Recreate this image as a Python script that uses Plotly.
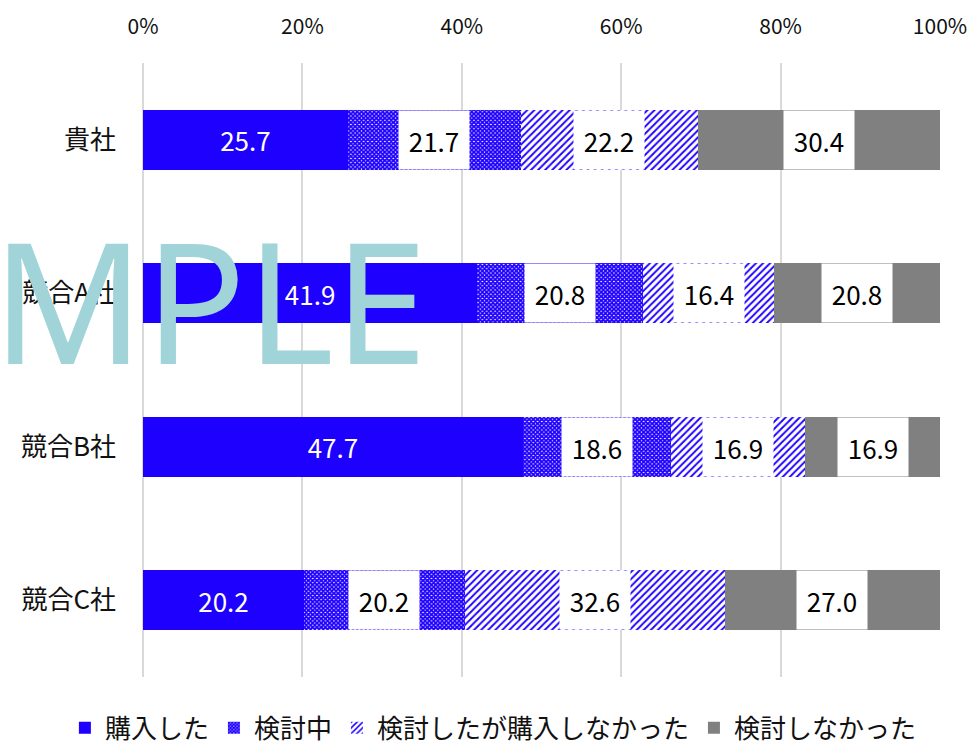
import plotly.graph_objects as go

categories = ["貴社", "競合A社", "競合B社", "競合C社"]
series_names = ["購入した", "検討中", "検討したが購入しなかった", "検討しなかった"]
purchased = [25.7, 41.9, 47.7, 20.2]
considering = [21.7, 20.8, 18.6, 20.2]
considered_not_bought = [22.2, 16.4, 16.9, 32.6]
not_considered = [30.4, 20.8, 16.9, 27.0]
tick_vals = [0, 20, 40, 60, 80, 100]
tick_labels = ["0%", "20%", "40%", "60%", "80%", "100%"]
watermark = "MPLE"

BLUE = "#1E00FF"
GRAY = "#808080"
FONT = "Noto Sans CJK JP"

series = [purchased, considering, considered_not_bought, not_considered]

fig = go.Figure()
styles = [
    dict(color=BLUE),
    dict(color="white", pattern=dict(shape="x", fgcolor=BLUE, bgcolor="white", fgopacity=1,
                                     size=3, solidity=0.85)),
    dict(color="white", pattern=dict(shape="/", fgcolor=BLUE, bgcolor="white", fgopacity=1,
                                     size=5, solidity=0.38)),
    dict(color=GRAY),
]
for i, (name, vals) in enumerate(zip(series_names, series)):
    kw = {}
    if i == 0:
        kw = dict(text=[f"{v:.1f}" for v in vals], textposition="inside",
                  insidetextanchor="middle",
                  textfont=dict(color="white", size=26, family=FONT))
    fig.add_trace(go.Bar(
        name=name, y=categories, x=vals, orientation="h",
        marker=dict(line=dict(width=0), **styles[i]), hoverinfo="skip", **kw
    ))

# normalized cumulative positions for label boxes
annotations = []
for ci, cat in enumerate(categories):
    total = sum(s[ci] for s in series)
    cum = 0
    for si, s in enumerate(series):
        v = s[ci] / total * 100
        mid = cum + v / 2
        cum += v
        if si == 0:
            continue
        annotations.append(dict(
            x=mid, y=cat, xref="x", yref="y", text=f"{s[ci]:.1f}", showarrow=False,
            font=dict(size=26, color="black", family=FONT),
            bgcolor="white", width=68, height=56, align="center", valign="middle",
        ))

annotations.append(dict(
    x=-0.192, y=0.617, xref="paper", yref="paper", xanchor="left", yanchor="middle",
    text=watermark, showarrow=False,
    font=dict(size=168, color="#A0D4D8", family="Noto Sans"),
))

# page is rendered with an 8px body margin: figure is 970x736, offset by 8px
fig.update_layout(
    width=970, height=736,
    barmode="stack", barnorm="percent", bargap=0.61,
    plot_bgcolor="white", paper_bgcolor="white",
    margin=dict(l=135, r=38, t=55, b=67, autoexpand=False),
    font=dict(family=FONT, size=20, color="#111"),
    annotations=annotations,
    legend=dict(orientation="h", x=-0.098, xanchor="left",
                y=-0.083, yanchor="middle",
                font=dict(size=26, family=FONT, color="#111"), traceorder="normal",
                itemwidth=30, bgcolor="rgba(0,0,0,0)"),
    showlegend=True,
)
fig.update_xaxes(
    side="top", range=[0, 100], tickvals=tick_vals, ticktext=tick_labels,
    showgrid=True, gridcolor="#D9D9D9", gridwidth=1.5,
    zeroline=True, zerolinecolor="#D9D9D9", zerolinewidth=1.5,
    showline=False, ticks="", ticklabelstandoff=24, automargin=False,
    tickfont=dict(size=21, family=FONT, color="#111"), fixedrange=True,
)
fig.update_yaxes(
    categoryorder="array", categoryarray=categories, autorange="reversed",
    showgrid=False, zeroline=False, showline=False, ticks="",
    ticklabelstandoff=26, automargin=False,
    tickfont=dict(size=26, family=FONT, color="#111"),
)

fig.write_html("out.html")
